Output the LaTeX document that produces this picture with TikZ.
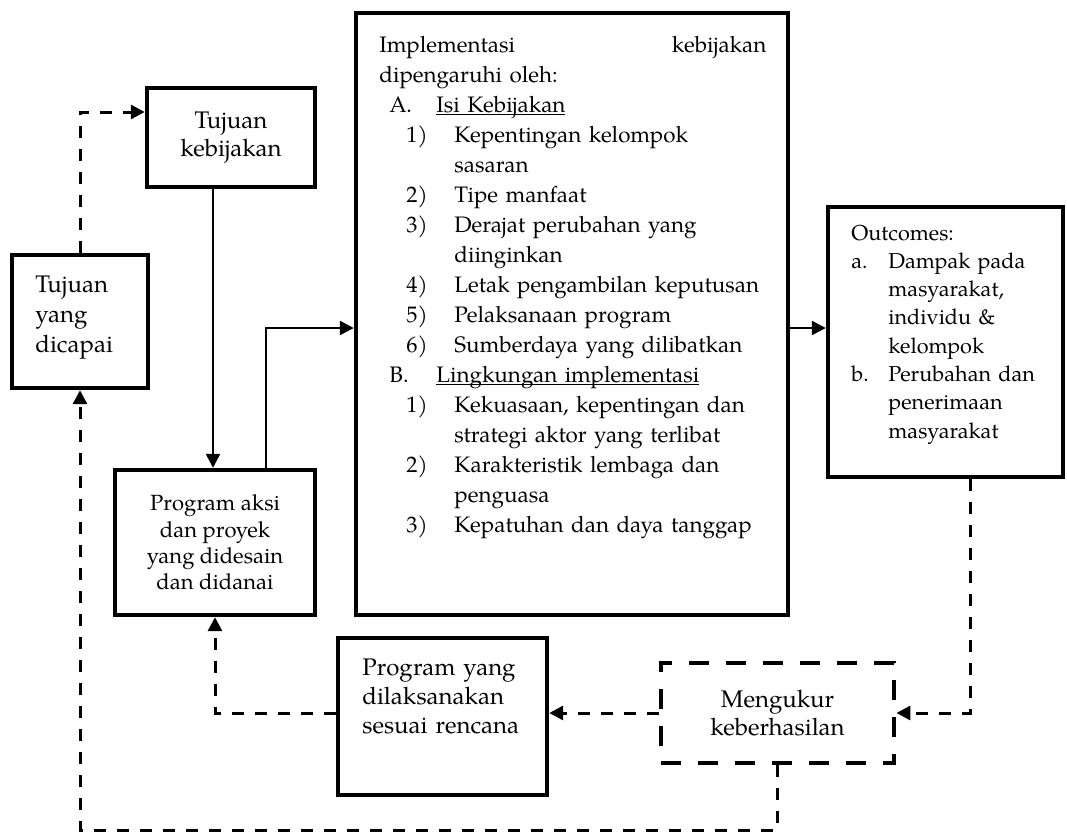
\documentclass[tikz,border=0pt]{standalone}
\usepackage{fontspec}
\setmainfont{TeX Gyre Pagella}
\usetikzlibrary{arrows.meta}

\newcommand{\hurufitem}[2]{\hspace*{5pt}\makebox[23.5pt][l]{#1}\underline{\smash{#2}}}
\newcommand{\angkaitem}[2]{\hspace*{13.5pt}\makebox[24pt][l]{#1}#2}
\newcommand{\lanjut}[1]{\hspace*{37.5pt}#1}

\begin{document}
\begin{tikzpicture}[x=0.5pt,y=-0.5pt,>={Triangle[length=7pt,width=7pt]},
  kotak/.style={draw,line width=2.2pt,inner sep=0pt},
  teks/.style={inner sep=0pt,align=left},
  garis/.style={line width=1.2pt},
  putus/.style={line width=1.5pt,dash pattern=on 6pt off 5.5pt}]
\useasboundingbox (0,0) rectangle (1067,832);
\node[kotak,minimum width=84pt,minimum height=49.5pt,align=center,font=\fontsize{12}{14}\selectfont] (tujuan) at (231,137.5) {Tujuan\\kebijakan};
\node[kotak,minimum width=68pt,minimum height=66.5pt] (capai) at (80,321.5) {};
\node[teks,text width=50pt,anchor=base west,font=\fontsize{12}{15}\selectfont] (capaiT) at (35,292) {Tujuan\\yang\\dicapai};
\node[kotak,minimum width=100pt,minimum height=72.5pt,align=center,font=\fontsize{11}{13.2}\selectfont] (aksi) at (215,542.5) {Program aksi\\dan proyek\\yang didesain\\dan didanai};
\node[kotak,minimum width=216pt,minimum height=301pt] (impl) at (572,314) {};
\node[teks,text width=215pt,anchor=base west,font=\fontsize{11.2}{15}\selectfont] (implT) at (379,52) {%
\makebox[193.5pt][l]{Implementasi\hfill kebijakan}\\
dipengaruhi oleh:\\
\hurufitem{A.}{Isi Kebijakan}\\
\angkaitem{1)}{Kepentingan kelompok}\\
\lanjut{sasaran}\\
\angkaitem{2)}{Tipe manfaat}\\
\angkaitem{3)}{Derajat perubahan yang}\\
\lanjut{diinginkan}\\
\angkaitem{4)}{Letak pengambilan keputusan}\\
\angkaitem{5)}{Pelaksanaan program}\\
\angkaitem{6)}{Sumberdaya yang dilibatkan}\\
\hurufitem{B.}{Lingkungan implementasi}\\
\angkaitem{1)}{Kekuasaan, kepentingan dan}\\
\lanjut{strategi aktor yang terlibat}\\
\angkaitem{2)}{Karakteristik lembaga dan}\\
\lanjut{penguasa}\\
\angkaitem{3)}{Kepatuhan dan daya tanggap}};
\node[kotak,minimum width=117.5pt,minimum height=135pt] (outc) at (945.5,342) {};
\node[teks,text width=100pt,anchor=base west,font=\fontsize{10.8}{14.15}\selectfont] (outcT) at (851,240) {%
Outcomes:\\
\makebox[18.5pt][l]{a.}Dampak pada\\
\hspace*{18.5pt}masyarakat,\\
\hspace*{18.5pt}individu \&\\
\hspace*{18.5pt}kelompok\\
\makebox[18.5pt][l]{b.}Perubahan dan\\
\hspace*{18.5pt}penerimaan\\
\hspace*{18.5pt}masyarakat};
\node[kotak,minimum width=104.5pt,minimum height=78.5pt] (laks) at (442.5,716.5) {};
\node[teks,text width=95pt,anchor=base west,font=\fontsize{12}{14.5}\selectfont] (laksT) at (362,675) {Program yang\\dilaksanakan\\sesuai rencana};
\node[kotak,line width=2.4pt,dash pattern=on 10pt off 8.5pt,minimum width=116.5pt,minimum height=50pt,align=center,font=\fontsize{12}{14}\selectfont] (ukur) at (777.5,713) {Mengukur\\keberhasilan};
\coordinate (bawah) at (0,830);
% panah
\draw[putus,->] (capai.north) |- ([yshift=12.75pt]tujuan.west);
\draw[garis,->] ([xshift=-9pt]tujuan.south) -- ([xshift=-9pt]tujuan.south |- aksi.north);
\draw[garis,->] ([xshift=25.5pt]aksi.north) |- ([yshift=-7pt]impl.west);
\draw[garis,->] ([yshift=-7pt]impl.east) -- ([yshift=-7pt]impl.east -| outc.west);
\draw[putus,->] ([xshift=12.25pt]outc.south) |- (ukur.east);
\draw[putus,->] (ukur.west) -- (ukur.west -| laks.east);
\draw[putus,->] (laks.west |- ukur.west) -| (aksi.south);
\draw[putus,->] (ukur.south) |- (bawah -| capai.south) -- (capai.south);
\end{tikzpicture}
\end{document}
